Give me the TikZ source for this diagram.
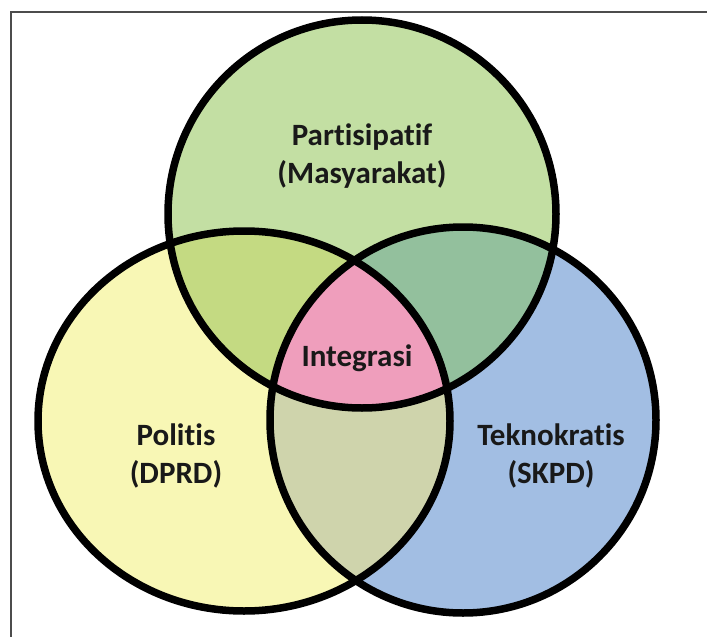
\documentclass[tikz,border=0pt]{standalone}
\usepackage{fontspec}
\setmainfont{Carlito}[RawFeature=-liga]
\usetikzlibrary{positioning}

\definecolor{partgreen}{HTML}{C3DFA3}
\definecolor{polyellow}{HTML}{F8F7B5}
\definecolor{teknoblue}{HTML}{A2BEE3}
\definecolor{mixtopleft}{HTML}{C4DA82}
\definecolor{mixtopright}{HTML}{93C09D}
\definecolor{mixleftright}{HTML}{CFD4AC}
\definecolor{integpink}{HTML}{EF9EBC}

\begin{document}
\begin{tikzpicture}[x=1pt, y=-1pt,
    ring/.style={draw=black, line width=7.5pt},
    setlabel/.style={font=\fontsize{31}{38}\selectfont\bfseries, align=center, text=black!90}
]
\useasboundingbox (0,0) rectangle (707,637);
\draw[line width=2pt, draw=black!70] (11,12) rectangle (740,670);

% centres of the three sets
\coordinate (topc)   at (362,214);
\coordinate (leftc)  at (244,421);
\coordinate (rightc) at (463,420);
\def\toppath{(topc) circle[radius=194]}
\def\leftpath{(leftc) ellipse[x radius=206, y radius=190]}
\def\rightpath{(rightc) circle[radius=193]}

% plain areas
\fill[polyellow] \leftpath;
\fill[teknoblue] \rightpath;
\fill[partgreen] \toppath;

% overlaps
\begin{scope}
  \clip \toppath;
  \fill[mixtopleft] \leftpath;
\end{scope}
\begin{scope}
  \clip \toppath;
  \fill[mixtopright] \rightpath;
\end{scope}
\begin{scope}
  \clip \leftpath;
  \fill[mixleftright] \rightpath;
\end{scope}
\begin{scope}
  \clip \toppath;
  \clip \leftpath;
  \fill[integpink] \rightpath;
\end{scope}

% outlines
\draw[ring] \leftpath;
\draw[ring] \rightpath;
\draw[ring] \toppath;

% labels
\node[setlabel] (part)  at (362,156) {Partisipatif\\(Masyarakat)};
\node[setlabel] (integ) at (357,358) {Integrasi};
\node[setlabel] (polit) at (176,456) {Politis\\(DPRD)};
\node[setlabel] (tekno) at (551,456) {Teknokratis\\(SKPD)};
\end{tikzpicture}
\end{document}
